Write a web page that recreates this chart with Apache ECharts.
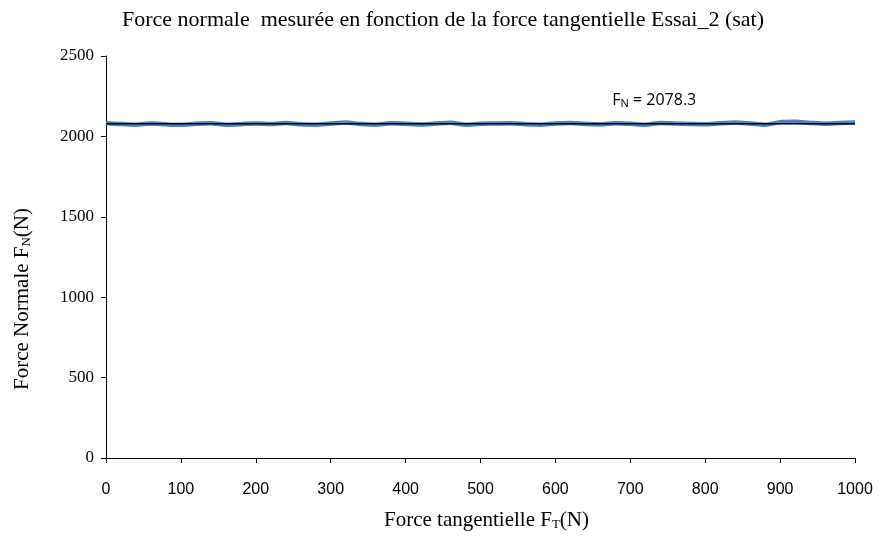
<!DOCTYPE html>
<html><head><meta charset="utf-8">
<script src="https://cdn.jsdelivr.net/npm/echarts@6/dist/echarts.min.js"></script>
<style>html,body{margin:0;padding:0;background:#fff}#c{width:880px;height:536px}</style>
</head><body><div id="c"></div>
<script>
const forceT = [0,20,40,60,80,100,120,140,160,180,200,220,240,260,280,300,320,340,360,380,400,420,440,460,480,500,520,540,560,580,600,620,640,660,680,700,720,740,760,780,800,820,840,860,880,900,920,940,960,980,1000];
const forceN = [2084,2077,2073,2080,2075,2072,2079,2082,2073,2076,2081,2077,2084,2075,2073,2080,2086,2077,2073,2082,2078,2074,2080,2085,2073,2078,2080,2082,2075,2072,2080,2084,2077,2074,2082,2078,2073,2084,2080,2077,2075,2082,2086,2080,2073,2088,2091,2084,2079,2083,2087];
const meanN = 2078.3;
const xTicks = [0,1000,100];
const yTicks = [0,2500,500];

const chart = echarts.init(document.getElementById('c'));
const serif = '"Liberation Serif","Times New Roman",serif';
const richTitle = {a:{fontFamily:serif,fontSize:21,color:'#000'},s:{fontFamily:serif,fontSize:13,color:'#000',padding:[9,0,0,0]}};
chart.setOption({
  animation:false,
  title:{text:'Force normale  mesurée en fonction de la force tangentielle Essai_2 (sat)',left:438,textAlign:'center',top:4,
    textStyle:{fontFamily:serif,fontSize:22,fontWeight:'normal',color:'#000'}},
  grid:{left:106,right:25,top:56,bottom:75},
  graphic:[{type:'text',x:22,y:299,rotation:Math.PI/2,
    style:{text:'{a|Force Normale F}{s|N}{a|(N)}',rich:richTitle,align:'center',verticalAlign:'middle'}}],
  xAxis:{type:'value',min:xTicks[0],max:xTicks[1],interval:xTicks[2],
    axisLine:{lineStyle:{color:'#000',width:1}},
    axisTick:{inside:false,length:5,lineStyle:{color:'#000'}},
    splitLine:{show:false},
    axisLabel:{color:'#000',fontFamily:'"Liberation Sans Narrow","Liberation Sans",sans-serif',fontSize:16,margin:24,formatter:v=>String(v)},
    name:'{a|Force tangentielle F}{s|T}{a|(N)}',nameLocation:'middle',nameGap:51,
    nameTextStyle:{padding:[0,0,0,12],rich:richTitle}
  },
  yAxis:{type:'value',min:yTicks[0],max:yTicks[1],interval:yTicks[2],
    axisLine:{show:true,lineStyle:{color:'#000',width:1}},
    axisTick:{show:true,inside:false,length:5,lineStyle:{color:'#000'}},
    splitLine:{show:false},
    axisLabel:{color:'#000',fontFamily:serif,fontSize:17,margin:12,formatter:v=>String(v)}
  },
  series:[
    {type:'line',data:forceT.map((x,i)=>[x,forceN[i]]),showSymbol:false,smooth:0.3,
      lineStyle:{color:'#4f81bd',width:4.5},z:2},
    {type:'line',data:[[xTicks[0],meanN],[xTicks[1],meanN]],showSymbol:false,
      lineStyle:{color:'#000',width:1.5},z:3,
      markPoint:{symbol:'rect',symbolSize:1,itemStyle:{color:'rgba(0,0,0,0)'},
        data:[{coord:[732,meanN],label:{show:true,position:'top',distance:14,
          formatter:'{a|F}{s|N}{a| = 2078.3}',
          rich:{a:{fontFamily:'"Open Sans","Liberation Sans",sans-serif',fontSize:16,color:'#000'},
                s:{fontFamily:'"Open Sans","Liberation Sans",sans-serif',fontSize:11,color:'#000',padding:[7,0,0,0]}}}}]}}
  ]
});
</script></body></html>
